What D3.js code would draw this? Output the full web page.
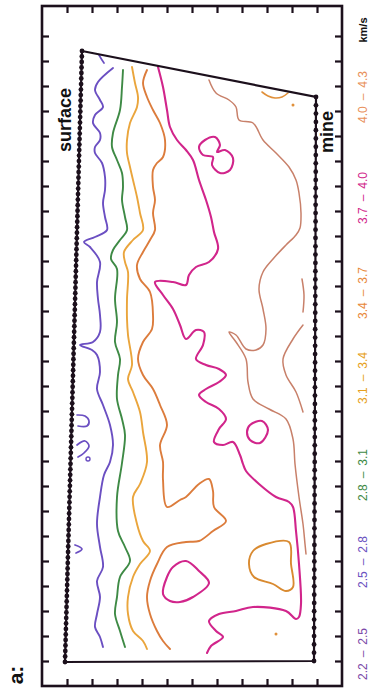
<!DOCTYPE html>
<html><head><meta charset="utf-8">
<script src="https://cdn.jsdelivr.net/npm/d3@7"></script>
<style>
html,body{margin:0;padding:0;background:#fff;}
svg{display:block;}
text{font-family:"Liberation Sans",Arial,Helvetica,sans-serif;}
</style></head><body>
<svg id="chart" width="373" height="696"></svg>
<script>
// ---------- data (depth units across, distance units along profile) ----------
const xTicks = [10,20,30,40,50,60,70,80,90,100,110];
const yTicks = [10,20,30,40,50,60,70,80,90,100,110,120,130,140,150,160,170,180,190,200,210,220,230,240,250,260];

const legendLabels = ["2.2\u2002\u2013\u20022.5","2.5\u2002\u2013\u20022.8","2.8\u2002\u2013\u20023.1","3.1\u2002\u2013\u20023.4","3.4\u2002\u2013\u20023.7","3.7\u2002\u2013\u20024.0","4.0\u2002\u2013\u20024.3"];
const legendColors = ["#7b4aa8","#6a50c0","#3e8a45","#e6a020","#e8883a","#d1258b","#e8905a"];
const unitLabel = "km/s";

// survey geometry: [depth, distance]
const surfaceEnds = [[16,254],[9.2,9.6]];
const mineEnds = [[109.6,235.6],[108.8,10]];
const surfaceStationCount = 112;
const mineStationCount = 69;

// contour lines, [depth, distance]
const contourPurple = [[28.4,247.2],[22.4,241.6],[21.2,238.4],[23.2,234.4],[24.4,231.6],[21.2,228.4],[20.4,225.2],[23.2,221.2],[23.2,218.4],[21.2,215.6],[21.2,213.2],[24,209.2],[25.2,203.6],[25.2,198.4],[24.4,193.2],[25.2,187.6],[26,182.4],[21.2,179.6],[16.8,177.6],[19.2,175.6],[23.2,169.6],[22,161.6],[22.4,154.8],[23.2,148.4],[23.2,141.6],[20.4,137.6],[15.2,136.4],[20,134.4],[22,132.4],[23.2,125.6],[22,118.8],[24.4,112.4],[27.2,104.4],[28.4,96.4],[27.2,89.6],[24.8,84.4],[23.2,75.6],[22,64.8],[23.2,55.6],[24.4,47.6],[22,42],[23.2,35.6],[22,28.8],[21.2,23.6],[23.2,19.6],[24.4,15.6]];
const purpleBits = [
  [[22.8,252.4],[24,250.4],[24.8,249.2]],
  [[14,108.4],[17.2,108],[18.8,106],[18,104],[14.4,104]],
  [[14,96.4],[17.2,98],[18.8,96],[16.8,93.2],[14.4,91.6]],
  [[13.2,56.4],[16,54.8],[13.6,53.2]]
];
const purpleRing = [[18.4,90.8]];

const contourGreen = [[32.4,246.4],[32,239.6],[31.2,230.4],[28.4,221.2],[28,215.6],[30,210.4],[32,205.2],[32.4,199.6],[32,194.4],[33.2,187.6],[34,182.4],[31.2,178.4],[28.4,174.4],[27.6,170.8],[30,166.8],[29.2,154.8],[30,145.6],[29.2,137.6],[31.2,130.8],[30.4,124.4],[30,114.8],[32,106.8],[33.2,100.4],[32,89.2],[30,75.6],[30.4,62],[33.2,55.6],[35.2,50],[31.2,43.6],[30,35.6],[29.2,28.8],[31.2,22],[33.2,15.6]];

const contourYellow = [[36,247.6],[37.2,241.2],[38.4,235.6],[38,231.6],[35.2,225.2],[34,218.4],[34,213.2],[35.2,207.6],[36.4,202.4],[38,195.6],[39.2,189.2],[40.4,182.4],[36.4,178.4],[32.8,173.6],[33.2,169.6],[34.4,165.6],[34,154.8],[34,146.8],[34.4,140.4],[36,128.4],[34.4,122.8],[36.4,117.6],[39.2,109.6],[40.4,101.6],[42,89.6],[39.2,80.8],[36.4,75.6],[38,64.8],[40.4,58],[43.2,54],[39.2,48.8],[36.4,43.6],[34.4,35.6],[34.4,28.8],[36.4,22],[40.4,18],[42,14.8]];

const contourOrange = [[42,246.4],[40.4,241.2],[42,235.6],[44.4,230.4],[47.2,225.2],[49.2,218.4],[48.4,211.6],[46,209.2],[44.4,206.4],[44.4,199.6],[45.2,194.4],[44.4,189.2],[45.2,182.4],[43.2,178.4],[40.4,173.6],[38,168.4],[39.2,162.8],[43.2,157.6],[44.4,148.4],[44,142.8],[40.4,137.6],[38.4,130.8],[40.4,124.4],[44.4,118.8],[47.2,112.4],[50,104.4],[47.2,96.4],[48.4,89.6],[48.4,82.4],[50,71.6],[55.2,74.4],[57.6,75.6],[62.8,80.8],[66.8,82.8],[68.4,78],[68.8,71.6],[73.6,66],[68.4,62],[62.8,58],[57.6,57.6],[50,55.6],[46,48.8],[43.2,42],[42,35.6],[43.2,28.8],[46,22],[48.4,18],[51.2,14.8]];
const orangeLoop = [[98.8,57.6],[89.6,56.8],[84.4,54],[82.8,48.8],[84.8,43.6],[92.4,40.8],[97.6,38],[100.4,39.6],[99.6,48.8]];
const orangeArc = [[88,237.6],[90.4,236],[93.2,235.2],[96,235.6],[98.4,237.2]];
const orangeDots = [[100.4,232.4],[93.6,20.8]];

const contourMagenta = [[46.4,247.6],[48.4,239.6],[50,230.4],[51.2,223.6],[54,218.4],[57.6,214.4],[60.4,210.4],[62.8,202.4],[65.6,194.4],[67.6,187.6],[68.8,181.6],[70.4,174.8],[66.8,169.6],[61.6,167.6],[58.8,164.4],[57.6,160.4],[52.4,161.6],[45.2,161.6],[48.4,156.4],[52.4,150.8],[55.2,144.4],[57.6,138.8],[61.6,142.4],[64.8,141.6],[64.4,136.4],[61.6,130.8],[65.6,128.4],[70.8,126.8],[73.6,124.4],[70.8,121.6],[65.6,118.8],[62.8,116.4],[65.6,113.6],[70.8,110.8],[73.6,106.8],[70.8,102.8],[68.8,97.6],[72.4,96.4],[76.4,97.6],[79.2,92.4],[80.4,88.8],[81.6,86],[86.8,80.8],[93.6,75.6],[98.8,73.6],[100.4,71.6],[101.6,62],[102.8,48.8],[103.6,32.8],[102.8,27.6],[101.6,26.8],[97.6,30],[84.4,31.6],[77.6,30],[70.8,28.8],[66.8,26],[69.6,22],[72.4,19.6],[67.6,16],[66,13.2]];
const magentaLoops = [
  [[65.2,218.4],[69.2,219.6],[71.2,216.4],[70,213.6],[73.2,214.4],[76.4,211.2],[75.2,206.4],[71.2,205.2],[68,208.4],[68.4,211.6],[64.4,212.4],[62.8,215.6]],
  [[83.2,104.4],[88,106],[90.4,102.4],[87.2,97.2],[83.2,98.4],[82,101.6]],
  [[57.6,50],[52.4,47.6],[50,43.6],[48.4,36.8],[51.2,34],[55.2,33.6],[60.4,35.6],[66.8,41.2],[62.8,46]]
];

const contourSalmon = [[66.8,242.4],[69.6,237.2],[74.8,234.4],[77.6,231.6],[78.8,226.4],[84.4,225.2],[88.4,218.4],[93.6,213.2],[98.8,207.6],[101.6,202.4],[102.8,197.2],[103.6,189.2],[103.2,183.2],[101.6,180.4],[97.6,176.4],[92.4,170.8],[88.4,165.6],[86.8,158.8],[88.4,150.8],[89.6,142.8],[88.4,136.4],[85.6,134.4],[81.6,134.8],[77.6,140.4],[74.8,141.6],[77.6,137.6],[81.6,130.8],[82.4,121.6],[84.4,114.8],[90.8,110.8],[97.6,106.8],[100.4,98.8],[101.2,88.8],[102.8,75.6],[104.4,64.8],[105.2,56.8],[105.6,52.8]];
const salmonBits = [
  [[104,162.8],[104.8,156.4],[104.4,149.6]],
  [[104.4,144.4],[100.4,138.8],[96.4,130.8],[97.6,124.4],[101.6,117.6],[104.4,109.6]]
];

// ---------- drawing ----------
const x = d3.scaleLinear().domain([0,120]).range([42,342]);
const y = d3.scaleLinear().domain([0,272]).range([686,6]);
const svg = d3.select('#chart');
const ink = '#1c101c';

const line = d3.line().x(d=>x(d[0])).y(d=>y(d[1])).curve(d3.curveCatmullRom.alpha(0.5));
const loop = d3.line().x(d=>x(d[0])).y(d=>y(d[1])).curve(d3.curveCatmullRomClosed.alpha(0.5));

// frame
svg.append('rect')
  .attr('x',x(0)).attr('y',y(272))
  .attr('width',x(120)-x(0)).attr('height',y(0)-y(272))
  .attr('fill','none').attr('stroke',ink).attr('stroke-width',2.6);

const tl = 7;
function styleAxis(g){
  g.select('.domain').remove();
  g.selectAll('.tick line').attr('stroke',ink).attr('stroke-width',2.2);
  g.selectAll('.tick text').remove();
}
svg.append('g').attr('transform',`translate(0,${y(272)})`)
  .call(d3.axisTop(x).tickValues(xTicks).tickSize(-tl).tickFormat('')).call(styleAxis);
svg.append('g').attr('transform',`translate(0,${y(0)})`)
  .call(d3.axisBottom(x).tickValues(xTicks).tickSize(-tl).tickFormat('')).call(styleAxis);
svg.append('g').attr('transform',`translate(${x(0)},0)`)
  .call(d3.axisLeft(y).tickValues(yTicks).tickSize(-tl).tickFormat('')).call(styleAxis);
svg.append('g').attr('transform',`translate(${x(120)},0)`)
  .call(d3.axisRight(y).tickValues(yTicks).tickSize(-tl).tickFormat('')).call(styleAxis);

// contours
function drawLine(data,color,w){
  svg.append('path').attr('d',line(data)).attr('fill','none')
    .attr('stroke',color).attr('stroke-width',w).attr('stroke-linejoin','round').attr('stroke-linecap','round');
}
function drawLoop(data,color,w){
  svg.append('path').attr('d',loop(data)).attr('fill','none')
    .attr('stroke',color).attr('stroke-width',w).attr('stroke-linejoin','round');
}
drawLine(contourPurple,'#6b4fc2',1.9);
purpleBits.forEach(b=>drawLine(b,'#6b4fc2',1.7));
purpleRing.forEach(p=>svg.append('circle').attr('cx',x(p[0])).attr('cy',y(p[1])).attr('r',2).attr('fill','none').attr('stroke','#6b4fc2').attr('stroke-width',1.4));
drawLine(contourGreen,'#3e8a45',1.9);
drawLine(contourYellow,'#eaa53c',1.9);
drawLine(contourOrange,'#dc7c3c',1.9);
drawLoop(orangeLoop,'#d98a30',1.9);
drawLine(orangeArc,'#e0903a',1.6);
orangeDots.forEach(p=>svg.append('circle').attr('cx',x(p[0])).attr('cy',y(p[1])).attr('r',1.5).attr('fill','#e0903a'));
drawLine(contourMagenta,'#d1258b',2.1);
magentaLoops.forEach(l=>drawLoop(l,'#d1258b',2.1));
drawLine(contourSalmon,'#c8806a',1.5);
salmonBits.forEach(b=>drawLine(b,'#c8806a',1.5));

// survey boundary
const boundary = [surfaceEnds[0],mineEnds[0],mineEnds[1],surfaceEnds[1]];
svg.append('path')
  .attr('d',d3.line().x(d=>x(d[0])).y(d=>y(d[1]))(boundary)+'Z')
  .attr('fill','none').attr('stroke',ink).attr('stroke-width',2.2);

function stations(ends,count){
  const t = d3.scaleLinear().domain([0,count-1]);
  const sx = t.copy().range([ends[0][0],ends[1][0]]);
  const sy = t.copy().range([ends[0][1],ends[1][1]]);
  return d3.range(count).map(i=>[sx(i),sy(i)]);
}
svg.append('g').selectAll('circle').data(stations(surfaceEnds,surfaceStationCount)).join('circle')
  .attr('cx',d=>x(d[0])).attr('cy',d=>y(d[1])).attr('r',2.4).attr('fill',ink);
svg.append('g').selectAll('circle').data(stations(mineEnds,mineStationCount)).join('circle')
  .attr('cx',d=>x(d[0])).attr('cy',d=>y(d[1])).attr('r',2.4).attr('fill',ink);

// labels
function rotText(px,py,str,size,weight,color){
  svg.append('text').attr('transform',`translate(${px},${py}) rotate(-90)`)
    .attr('text-anchor','middle').attr('dominant-baseline','central')
    .attr('font-size',size).attr('font-weight',weight).attr('fill',color).text(str);
}
rotText(65,120,'surface',18,'bold','#111');
rotText(327,132,'mine',18,'bold','#111');
rotText(15,675,'a:',21,'bold','#111');

const legendY = [654,562,475,378,293,198,97];
legendLabels.forEach((l,i)=>rotText(363,legendY[i],l,12,'normal',legendColors[i]));
rotText(363,30,unitLabel,11,'bold','#111');
</script>
</body></html>
